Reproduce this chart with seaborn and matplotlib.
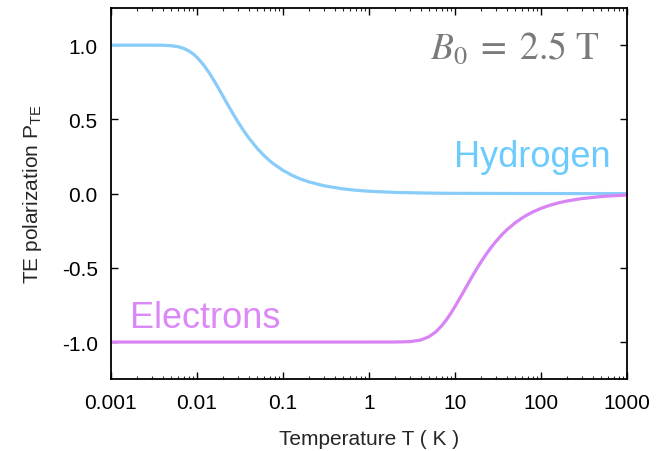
import numpy as np
import pandas as pd
import matplotlib
matplotlib.use("Agg")
import matplotlib.pyplot as plt
from matplotlib.ticker import LogLocator, FixedLocator, NullFormatter
import seaborn as sns

# Hydrogen (proton) TE polarization
h_temp = [0.001, 0.002, 0.003, 0.004, 0.005, 0.006, 0.007, 0.008, 0.009, 0.010,
          0.012, 0.014, 0.016, 0.018, 0.020, 0.023, 0.026, 0.030, 0.035, 0.040,
          0.050, 0.060, 0.070, 0.080, 0.100, 0.130, 0.160, 0.200, 0.300, 0.500,
          0.700, 1.0, 2.0, 5.0, 10.0, 100.0, 1000.0]
h_pol = [1.0000, 1.0000, 1.0000, 0.9993, 0.9964, 0.9897, 0.9783, 0.9622, 0.9420, 0.9186,
         0.8659, 0.8105, 0.7562, 0.7053, 0.6584, 0.5960, 0.5425, 0.4828, 0.4231, 0.3757,
         0.3059, 0.2574, 0.2219, 0.1950, 0.1567, 0.1209, 0.0984, 0.0788, 0.0527, 0.0316,
         0.0226, 0.0158, 0.0079, 0.0032, 0.0016, 0.0002, 0.0000]

# Electron TE polarization
e_temp = [0.001, 0.1, 1.0, 2.0, 3.0, 4.0, 5.0, 6.0, 7.0, 8.0, 9.0, 10.0,
          12.0, 14.0, 16.0, 18.0, 20.0, 23.0, 26.0, 30.0, 35.0, 40.0, 50.0,
          60.0, 70.0, 80.0, 100.0, 130.0, 160.0, 200.0, 300.0, 500.0, 700.0, 1000.0]
e_pol = [-1.0000, -1.0000, -1.0000, -0.9999, -0.9975, -0.9866, -0.9640, -0.9311, -0.8914,
         -0.8483, -0.8044, -0.7616, -0.6822, -0.6133, -0.5546, -0.5047, -0.4621, -0.4093,
         -0.3667, -0.3215, -0.2782, -0.2449, -0.1974, -0.1651, -0.1419, -0.1244, -0.0997,
         -0.0768, -0.0624, -0.0500, -0.0333, -0.0200, -0.0143, -0.0100]

x_ticks = [0.001, 0.01, 0.1, 1, 10, 100, 1000]
x_ticklabels = ["0.001", "0.01", "0.1", "1", "10", "100", "1000"]
y_ticks = [-1.0, -0.5, 0.0, 0.5, 1.0]
y_ticklabels = ["-1.0", "-0.5", "0.0", "0.5", "1.0"]

h_color = "#88CCFA"
e_color = "#D884F5"
h_text_color = "#6CCBFC"
e_text_color = "#DC88F8"

df = pd.concat([
    pd.DataFrame({"T": h_temp, "P": h_pol, "species": "Hydrogen"}),
    pd.DataFrame({"T": e_temp, "P": e_pol, "species": "Electrons"}),
], ignore_index=True)

sns.set_style("ticks")
plt.rcParams["font.family"] = ["Liberation Sans", "DejaVu Sans"]

fig = plt.figure(figsize=(6.6, 4.52), dpi=100)
ax = fig.add_axes([0.168, 0.159, 0.782, 0.821])

sns.lineplot(data=df, x="T", y="P", hue="species",
             palette={"Hydrogen": h_color, "Electrons": e_color},
             linewidth=2.3, legend=False, ax=ax, sort=True, estimator=None)

ax.set_xscale("log")
ax.set_xlim(0.001, 1000)
ax.set_ylim(-1.25, 1.25)

ax.xaxis.set_major_locator(FixedLocator(x_ticks))
ax.set_xticklabels(x_ticklabels)
ax.xaxis.set_minor_locator(LogLocator(base=10, subs=np.arange(2, 10), numticks=20))
ax.xaxis.set_minor_formatter(NullFormatter())
ax.set_yticks(y_ticks)
ax.set_yticklabels(y_ticklabels)

ax.tick_params(axis="both", which="major", direction="in", length=5, width=1.0,
               top=True, right=True, labelsize=15, colors="black")
ax.tick_params(axis="x", which="major", pad=10)
ax.tick_params(axis="y", which="major", pad=9.5)
ax.tick_params(axis="x", which="minor", direction="in", length=2.5, width=0.8,
               top=True, bottom=True)
for s in ax.spines.values():
    s.set_linewidth(1.3)
    s.set_color("black")

ax.set_xlabel("Temperature T ( K )", fontsize=15, labelpad=12)
ax.set_ylabel(r"TE polarization P$\mathregular{_{TE}}$", fontsize=15, labelpad=13)

ax.text(0.783, 0.892, r"$B_0\;=\;2.5\ \mathrm{T}$", transform=ax.transAxes,
        ha="center", va="center", fontsize=27, color="#7a7a7a", math_fontfamily="stix")
ax.text(0.816, 0.601, "Hydrogen", transform=ax.transAxes, ha="center", va="center",
        fontsize=26, color=h_text_color)
ax.text(0.182, 0.167, "Electrons", transform=ax.transAxes, ha="center", va="center",
        fontsize=26, color=e_text_color)

fig.savefig("out.png", dpi=100)
